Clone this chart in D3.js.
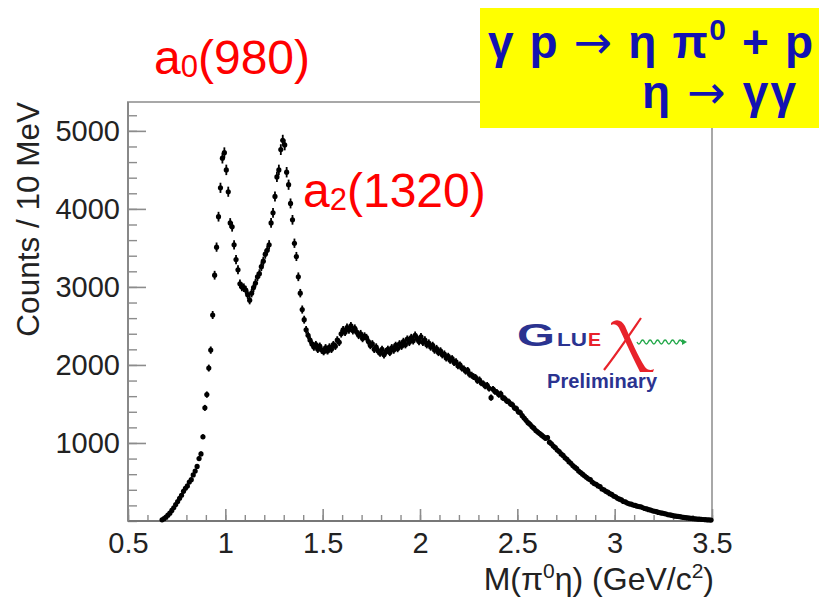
<!DOCTYPE html>
<html>
<head>
<meta charset="utf-8">
<script src="https://cdn.jsdelivr.net/npm/d3@7"></script>
<style>
  body { margin: 0; background: #fff; }
  svg { display: block; }
  text { font-family: "Liberation Sans", Arial, Helvetica, sans-serif; }
</style>
</head>
<body>
<svg id="chart" width="819" height="597"></svg>
<script>
// pi0 eta invariant mass spectrum, 10 MeV bins starting at 0.67 GeV
const firstBinCenter = 0.675;
const binWidth = 0.01;
const counts = [
  15, 30, 50, 75, 100, 135, 170, 210, 250, 290,            // 0.675
  330, 380, 420, 450, 500, 530, 590, 640, 700, 800,        // 0.775
  860, 1080, 1450, 1620, 1960, 2190, 2640, 3150, 3510, 3900, // 0.875
  4270, 4650, 4720, 4500, 4220, 3820, 3770, 3540, 3350, 3220, // 0.975
  3040, 3000, 2990, 2960, 2900, 2830, 2920, 2990, 3050, 3130, // 1.075
  3170, 3260, 3330, 3420, 3470, 3540, 3820, 3950, 4160, 4410, // 1.175
  4500, 4760, 4880, 4820, 4470, 4310, 4070, 3860, 3560, 3390, // 1.275
  3130, 2920, 2710, 2580, 2450, 2380, 2320, 2270, 2230, 2260, // 1.375
  2200, 2240, 2190, 2170, 2220, 2180, 2230, 2200, 2260, 2240, // 1.475
  2320, 2290, 2400, 2450, 2420, 2480, 2450, 2500, 2440, 2470, // 1.575
  2420, 2380, 2400, 2340, 2370, 2350, 2300, 2250, 2270, 2200, // 1.675
  2230, 2180, 2150, 2200, 2130, 2170, 2200, 2160, 2220, 2190, // 1.775
  2250, 2210, 2270, 2240, 2300, 2260, 2330, 2290, 2350, 2310, // 1.875
  2380, 2340, 2300, 2360, 2290, 2320, 2260, 2280, 2230, 2250, // 1.975
  2190, 2210, 2160, 2180, 2130, 2140, 2090, 2110, 2060, 2080, // 2.075
  2030, 2040, 1990, 2000, 1960, 1950, 1920, 1930, 1880, 1870, // 2.175
  1850, 1840, 1800, 1810, 1770, 1760, 1730, 1740, 1700, 1580, // 2.275
  1690, 1660, 1650, 1620, 1630, 1580, 1570, 1540, 1530, 1500, // 2.375
  1490, 1450, 1440, 1400, 1390, 1350, 1320, 1290, 1260, 1240, // 2.475
  1210, 1190, 1160, 1140, 1120, 1100, 1080, 1060, 1070, 1010, // 2.575
  990, 960, 940, 910, 890, 860, 840, 810, 790, 760,          // 2.675
  740, 710, 690, 670, 640, 620, 600, 580, 560, 540,          // 2.775
  530, 500, 480, 470, 450, 440, 410, 400, 380, 370,          // 2.875
  350, 340, 320, 310, 290, 280, 270, 250, 245, 230,          // 2.975
  220, 215, 205, 200, 190, 185, 180, 170, 160, 155,          // 3.075
  145, 140, 130, 125, 120, 110, 105, 100, 95, 90,            // 3.175
  80, 78, 72, 65, 62, 58, 55, 50, 46, 42,                    // 3.275
  40, 36, 33, 30, 28, 25, 23, 21, 19, 17,                    // 3.375
  15, 14, 12                                                 // 3.475
];

const xTickValues = [0.5, 1, 1.5, 2, 2.5, 3, 3.5];
const xTickLabels = ["0.5", "1", "1.5", "2", "2.5", "3", "3.5"];
const yTickValues = [1000, 2000, 3000, 4000, 5000];
const yTickLabels = ["1000", "2000", "3000", "4000", "5000"];

const svg = d3.select("#chart");
const plot = { left: 128, right: 712, top: 102, bottom: 521 };

const x = d3.scaleLinear().domain([0.5, 3.5]).range([plot.left, plot.right]);
const y = d3.scaleLinear().domain([0, 5370]).range([plot.bottom, plot.top]);

const bins = counts.map((c, i) => ({ m: firstBinCenter + i * binWidth, c }));

const axisGrey = "#8c8c8c";
const labelFont = "'Liberation Sans', Arial, sans-serif";

// frame
svg.append("rect")
  .attr("x", plot.left).attr("y", plot.top)
  .attr("width", plot.right - plot.left).attr("height", plot.bottom - plot.top)
  .attr("fill", "none").attr("stroke", "#a8a8a8").attr("stroke-width", 2);

// minor ticks
const xMinor = d3.range(5, 36).map(d => d / 10);
svg.append("g")
  .attr("transform", `translate(0,${plot.bottom})`)
  .call(d3.axisBottom(x).tickValues(xMinor).tickSize(-6).tickFormat(""))
  .call(g => g.select(".domain").remove())
  .call(g => g.selectAll("line").attr("stroke", axisGrey).attr("stroke-width", 1.4));

const yMinor = d3.range(0, 5370, 200);
svg.append("g")
  .attr("transform", `translate(${plot.left},0)`)
  .call(d3.axisLeft(y).tickValues(yMinor).tickSize(-9).tickFormat(""))
  .call(g => g.select(".domain").remove())
  .call(g => g.selectAll("line").attr("stroke", axisGrey).attr("stroke-width", 1.4));

// major ticks and labels
const xAxis = svg.append("g")
  .attr("transform", `translate(0,${plot.bottom})`)
  .call(d3.axisBottom(x).tickValues(xTickValues).tickSize(-12).tickPadding(11)
    .tickFormat((d, i) => xTickLabels[i]));
xAxis.select(".domain").remove();
xAxis.selectAll("line").attr("stroke", axisGrey).attr("stroke-width", 1.6);
xAxis.selectAll("text").attr("font-size", 29).attr("fill", "#222")
  .style("font-family", labelFont);

const yAxis = svg.append("g")
  .attr("transform", `translate(${plot.left},0)`)
  .call(d3.axisLeft(y).tickValues(yTickValues).tickSize(-18).tickPadding(8)
    .tickFormat((d, i) => yTickLabels[i]));
yAxis.select(".domain").remove();
yAxis.selectAll("line").attr("stroke", axisGrey).attr("stroke-width", 1.6);
yAxis.selectAll("text").attr("font-size", 29).attr("fill", "#222")
  .style("font-family", labelFont);

// axis lines
svg.append("line").attr("x1", plot.left).attr("x2", plot.right)
  .attr("y1", plot.bottom).attr("y2", plot.bottom)
  .attr("stroke", "#777").attr("stroke-width", 2);
svg.append("line").attr("x1", plot.left).attr("x2", plot.left)
  .attr("y1", plot.top).attr("y2", plot.bottom)
  .attr("stroke", "#888").attr("stroke-width", 2);

// axis titles
svg.append("text")
  .attr("transform", `translate(39,${plot.top}) rotate(-90)`)
  .attr("text-anchor", "end").attr("font-size", 31.5).attr("fill", "#222")
  .text("Counts / 10 MeV");

const xt = svg.append("text")
  .attr("x", plot.right + 2).attr("y", 590)
  .attr("text-anchor", "end").attr("font-size", 32).attr("fill", "#222");
xt.append("tspan").text("M(\u03C0");
xt.append("tspan").attr("font-size", 21).attr("dy", -12).text("0");
xt.append("tspan").attr("dy", 12).text("\u03B7) (GeV/c");
xt.append("tspan").attr("font-size", 21).attr("dy", -12).text("2");
xt.append("tspan").attr("dy", 12).text(")");

// data points with statistical error bars
const pts = svg.append("g").attr("fill", "#000").attr("stroke", "#000");
pts.selectAll("line.ey").data(bins).join("line").attr("class", "ey")
  .attr("x1", d => x(d.m)).attr("x2", d => x(d.m))
  .attr("y1", d => y(d.c + Math.sqrt(d.c))).attr("y2", d => y(d.c - Math.sqrt(d.c)))
  .attr("stroke-width", 1.8);
pts.selectAll("line.ex").data(bins).join("line").attr("class", "ex")
  .attr("x1", d => x(d.m - binWidth / 2)).attr("x2", d => x(d.m + binWidth / 2))
  .attr("y1", d => y(d.c)).attr("y2", d => y(d.c))
  .attr("stroke-width", 1.8);
pts.selectAll("circle").data(bins).join("circle")
  .attr("cx", d => x(d.m)).attr("cy", d => y(d.c)).attr("r", 2.6)
  .attr("stroke", "none");

// resonance labels
function resonance(xp, yp, sub, mass) {
  const t = svg.append("text").attr("x", xp).attr("y", yp)
    .attr("font-size", 48).attr("fill", "#ff0000");
  t.append("tspan").text("a");
  t.append("tspan").attr("font-size", 31).attr("dy", 3).text(sub);
  t.append("tspan").attr("dy", -3).text(mass);
}
resonance(154, 74, "0", "(980)");
resonance(303, 207, "2", "(1320)");

// reaction box
svg.append("rect").attr("x", 480).attr("y", 8).attr("width", 339).attr("height", 120)
  .attr("fill", "#ffff00");
const blue = "#1212b2";
const arrowFont = "'DejaVu Sans', sans-serif";
const r1 = svg.append("text").attr("x", 488).attr("y", 58)
  .attr("font-size", 46).attr("font-weight", "bold").attr("fill", blue)
  .attr("textLength", 325).attr("lengthAdjust", "spacing");
r1.append("tspan").text("\u03B3 p ");
r1.append("tspan").style("font-family", arrowFont).attr("font-weight", "normal").text("\u2192");
r1.append("tspan").text(" \u03B7 \u03C0");
r1.append("tspan").attr("font-size", 30).attr("dy", -18).text("0");
r1.append("tspan").attr("dy", 18).text(" + p");
const r2 = svg.append("text").attr("x", 642).attr("y", 108)
  .attr("font-size", 46).attr("font-weight", "bold").attr("fill", blue)
  .attr("textLength", 154).attr("lengthAdjust", "spacing");
r2.append("tspan").text("\u03B7 ");
r2.append("tspan").style("font-family", arrowFont).attr("font-weight", "normal").text("\u2192");
r2.append("tspan").text(" \u03B3\u03B3");

// GlueX logo
const navy = "#2b3390";
const logoRed = "#e8222a";
svg.append("text").attr("x", 517).attr("y", 346).attr("font-size", 31)
  .attr("font-weight", "bold").attr("fill", navy)
  .attr("textLength", 38).attr("lengthAdjust", "spacingAndGlyphs").text("G");
svg.append("text").attr("x", 557).attr("y", 346).attr("font-size", 19)
  .attr("font-weight", "bold").attr("fill", navy)
  .attr("textLength", 30).attr("lengthAdjust", "spacingAndGlyphs").text("LU");
svg.append("text").attr("x", 588).attr("y", 346).attr("font-size", 19)
  .attr("font-weight", "bold").attr("fill", logoRed)
  .attr("textLength", 13).attr("lengthAdjust", "spacingAndGlyphs").text("E");
// stylised X
svg.append("path")
  .attr("d", "M611,323 C616,318 622,320 625,326 C631,340 638,356 645,367 C647,370 651,371 654,369 L653,372 L640,372 C634,360 627,345 620,330 C618,325 615,323 611,325 Z")
  .attr("fill", logoRed);
svg.append("path")
  .attr("d", "M641,318 C630,334 618,352 604,370")
  .attr("fill", "none").attr("stroke", logoRed).attr("stroke-width", 2.2);
// green gluon wave
let wave = "M637,342";
for (let i = 0; i < 6; i++) {
  const x0 = 637 + i * 7.5;
  wave += ` Q${x0 + 1.9},346 ${x0 + 3.75},342 Q${x0 + 5.6},338 ${x0 + 7.5},342`;
}
svg.append("path").attr("d", wave).attr("fill", "none")
  .attr("stroke", "#23a84a").attr("stroke-width", 1.4);
svg.append("path").attr("d", "M682,339 L687,342 L682,345 Z").attr("fill", "#23a84a");
svg.append("text").attr("x", 547).attr("y", 388).attr("font-size", 20)
  .attr("font-weight", "bold").attr("fill", navy)
  .attr("textLength", 110).attr("lengthAdjust", "spacing").text("Preliminary");
</script>
</body>
</html>
